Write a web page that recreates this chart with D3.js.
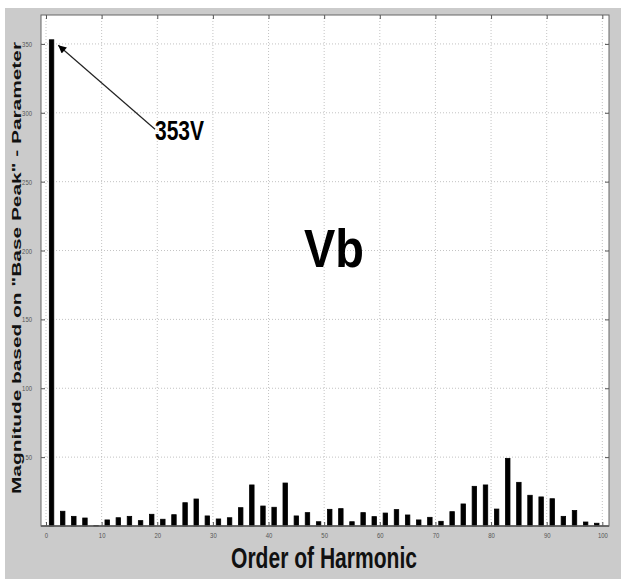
<!DOCTYPE html>
<html>
<head>
<meta charset="utf-8">
<script src="https://cdn.jsdelivr.net/npm/d3@7"></script>
<style>
  html, body { margin: 0; padding: 0; background: #ffffff; }
  svg { display: block; font-family: "Liberation Sans", Arial, sans-serif; }
</style>
</head>
<body>
<svg id="chart" width="624" height="585"></svg>
<script>
// Harmonic orders (odd harmonics) and their magnitudes
const orders = [1, 3, 5, 7, 9, 11, 13, 15, 17, 19, 21, 23, 25, 27, 29, 31, 33, 35, 37, 39,
                41, 43, 45, 47, 49, 51, 53, 55, 57, 59, 61, 63, 65, 67, 69, 71, 73, 75, 77, 79,
                81, 83, 85, 87, 89, 91, 93, 95, 97, 99];
const magnitudes = [353, 10.7, 7, 5.8, 0.4, 4.4, 6, 7, 3.9, 8.5, 4.9, 8.2, 16.9, 19.6, 7.3, 5.1, 6, 13.3, 29.8, 14.5,
                    13.6, 31.2, 7.3, 9.7, 3.1, 12.1, 12.6, 3.1, 9.7, 6.8, 9.4, 11.9, 8, 4.4, 6.3, 3.4, 10.4, 16, 28.8, 29.8,
                    12.3, 49.1, 31.7, 22.3, 21.1, 19.8, 7, 11.2, 2.9, 2];
const xTicks = [0, 10, 20, 30, 40, 50, 60, 70, 80, 90, 100];
const yTicks = [50, 100, 150, 200, 250, 300, 350];
const peakLabel = "353V";
const signalName = "Vb";
const xTitle = "Order of Harmonic";
const yTitle = "Magnitude based on \"Base Peak\" - Parameter";

const svg = d3.select("#chart");

// figure background
svg.append("rect").attr("x", 5).attr("y", 8).attr("width", 616).attr("height", 571)
  .attr("fill", "#cbcbcb");

const plot = { left: 41, top: 15, right: 609, bottom: 526 };

const x = d3.scaleLinear().domain([-0.9, 101.2]).range([plot.left, plot.right]);
const y = d3.scaleLinear().domain([0, 371]).range([plot.bottom, plot.top]);

// axes area
svg.append("rect")
  .attr("x", plot.left).attr("y", plot.top)
  .attr("width", plot.right - plot.left).attr("height", plot.bottom - plot.top)
  .attr("fill", "#ffffff");

// grid
const grid = svg.append("g").attr("stroke", "#b4b4b4").attr("stroke-width", 0.8)
  .attr("stroke-dasharray", "1,2");
grid.selectAll("line.gx").data(xTicks).join("line")
  .attr("x1", d => x(d)).attr("x2", d => x(d))
  .attr("y1", plot.top).attr("y2", plot.bottom);
grid.selectAll("line.gy").data(yTicks).join("line")
  .attr("x1", plot.left).attr("x2", plot.right)
  .attr("y1", d => y(d)).attr("y2", d => y(d));

// bars
const barW = x(0.8) - x(0);
svg.append("g").selectAll("rect").data(orders).join("rect")
  .attr("x", (d) => x(d) - barW / 2)
  .attr("width", barW)
  .attr("y", (d, i) => y(magnitudes[i]))
  .attr("height", (d, i) => y(0) - y(magnitudes[i]))
  .attr("fill", "#000")
  .attr("stroke", "#000")
  .attr("stroke-width", 0.8);

// baseline
svg.append("line")
  .attr("x1", plot.left).attr("x2", plot.right)
  .attr("y1", y(0)).attr("y2", y(0))
  .attr("stroke", "#444").attr("stroke-width", 1.5);

// axes with inward ticks
const axCol = "#555";
const xAxis = svg.append("g").attr("transform", `translate(0,${plot.bottom})`)
  .call(d3.axisBottom(x).tickValues(xTicks).tickSize(-4).tickPadding(6));
const xAxisTop = svg.append("g").attr("transform", `translate(0,${plot.top})`)
  .call(d3.axisTop(x).tickValues(xTicks).tickSize(-4).tickFormat(""));
const yAxis = svg.append("g").attr("transform", `translate(${plot.left},0)`)
  .call(d3.axisLeft(y).tickValues(yTicks).tickSize(-4).tickPadding(9));
const yAxisRight = svg.append("g").attr("transform", `translate(${plot.right},0)`)
  .call(d3.axisRight(y).tickValues(yTicks).tickSize(-4).tickFormat(""));

[xAxis, xAxisTop, yAxis, yAxisRight].forEach(g => {
  g.select(".domain").remove();
  g.selectAll(".tick line").attr("stroke", axCol);
  g.selectAll(".tick text").attr("fill", "#555").attr("font-size", 8)
    .each(function () {
      const n = this.textContent.length;
      if (n) d3.select(this).attr("textLength", n * 3.3).attr("lengthAdjust", "spacingAndGlyphs");
    });
});

// frame
svg.append("rect")
  .attr("x", plot.left).attr("y", plot.top)
  .attr("width", plot.right - plot.left).attr("height", plot.bottom - plot.top)
  .attr("fill", "none").attr("stroke", "#666").attr("stroke-width", 1);

// axis titles
svg.append("text")
  .attr("x", 324).attr("y", 568)
  .attr("text-anchor", "middle")
  .attr("font-weight", "bold").attr("font-size", 29)
  .attr("textLength", 186).attr("lengthAdjust", "spacingAndGlyphs")
  .attr("fill", "#111")
  .text(xTitle);

svg.append("text")
  .attr("transform", `translate(21,268) rotate(-90)`)
  .attr("text-anchor", "middle")
  .attr("font-weight", "bold").attr("font-size", 13)
  .attr("textLength", 452).attr("lengthAdjust", "spacingAndGlyphs")
  .attr("fill", "#111")
  .text(yTitle);

// signal name
svg.append("text")
  .attr("x", 334).attr("y", 267)
  .attr("text-anchor", "middle")
  .attr("font-weight", "bold").attr("font-size", 54)
  .attr("textLength", 60).attr("lengthAdjust", "spacingAndGlyphs")
  .attr("fill", "#000")
  .text(signalName);

// peak annotation with arrow
svg.append("defs").append("marker")
  .attr("id", "arrowhead").attr("viewBox", "0 0 10 10")
  .attr("refX", 10).attr("refY", 5)
  .attr("markerWidth", 10).attr("markerHeight", 8)
  .attr("markerUnits", "userSpaceOnUse")
  .attr("orient", "auto")
  .append("path").attr("d", "M0,0 L10,5 L0,10 z").attr("fill", "#000");

svg.append("line")
  .attr("x1", x(19.6)).attr("y1", y(288))
  .attr("x2", x(2.2)).attr("y2", y(349))
  .attr("stroke", "#222").attr("stroke-width", 1.2)
  .attr("marker-end", "url(#arrowhead)");

svg.append("text")
  .attr("x", 155).attr("y", 140)
  .attr("font-weight", "bold").attr("font-size", 27)
  .attr("textLength", 49).attr("lengthAdjust", "spacingAndGlyphs")
  .attr("fill", "#000")
  .text(peakLabel);
</script>
</body>
</html>
